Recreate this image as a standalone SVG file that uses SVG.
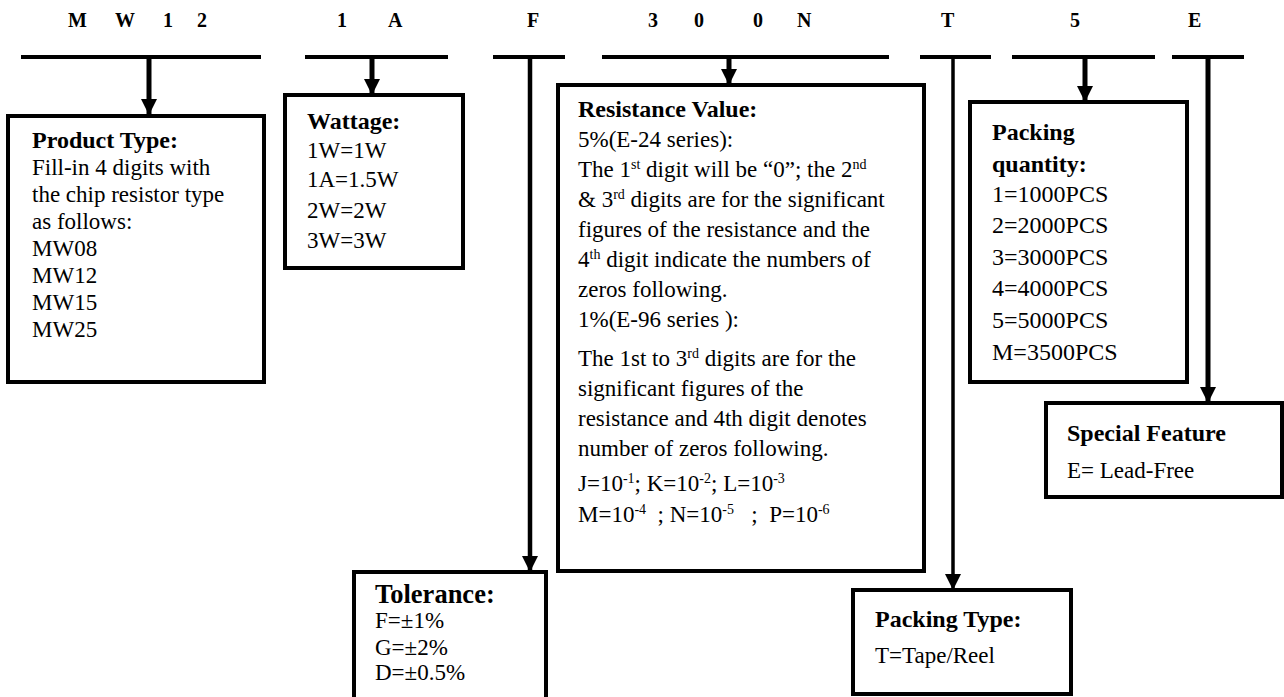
<svg xmlns="http://www.w3.org/2000/svg" width="1284" height="697" viewBox="0 0 1284 697">
<style>
text{font-family:"Liberation Serif","Times New Roman",serif;fill:#000}
.h{font-size:20px;font-weight:bold}
.t{font-size:24px;font-weight:bold}
.b{font-size:23px}
.q{font-size:24px}
.sup{font-size:14px}
.box{fill:#fff;stroke:#000;stroke-width:4}
.bar{stroke:#000;stroke-width:4;fill:none}
.stem{stroke:#000;fill:none}
</style>
<defs>
<marker id="ah" markerUnits="userSpaceOnUse" markerWidth="16" markerHeight="16" refX="16" refY="8" orient="auto">
<path d="M0,0 L16,8 L0,16 z" fill="#000"/>
</marker>
</defs>
<rect width="1284" height="697" fill="#fff"/>
<g id="header">
<text class="h" x="68" y="27">M</text>
<text class="h" x="115" y="27">W</text>
<text class="h" x="163" y="27">1</text>
<text class="h" x="197" y="27">2</text>
<text class="h" x="337" y="27">1</text>
<text class="h" x="388" y="27">A</text>
<text class="h" x="527" y="27">F</text>
<text class="h" x="648" y="27">3</text>
<text class="h" x="694" y="27">0</text>
<text class="h" x="753" y="27">0</text>
<text class="h" x="797" y="27">N</text>
<text class="h" x="941" y="27">T</text>
<text class="h" x="1070" y="27">5</text>
<text class="h" x="1188" y="27">E</text>
</g>
<g id="connectors">
<line class="bar" x1="21" y1="57" x2="261" y2="57"/>
<line class="bar" x1="305" y1="57" x2="448" y2="57"/>
<line class="bar" x1="493" y1="57" x2="565" y2="57"/>
<line class="bar" x1="602" y1="57" x2="889" y2="57"/>
<line class="bar" x1="920" y1="57" x2="991" y2="57"/>
<line class="bar" x1="1012" y1="57" x2="1155" y2="57"/>
<line class="bar" x1="1172" y1="57" x2="1244" y2="57"/>
<line class="stem" stroke-width="5" x1="149" y1="57" x2="149" y2="115" marker-end="url(#ah)"/>
<line class="stem" stroke-width="5" x1="372" y1="57" x2="372" y2="95" marker-end="url(#ah)"/>
<line class="stem" stroke-width="4.5" x1="530" y1="57" x2="530" y2="572" marker-end="url(#ah)"/>
<line class="stem" stroke-width="5" x1="729" y1="57" x2="729" y2="85" marker-end="url(#ah)"/>
<line class="stem" stroke-width="3.5" x1="953" y1="57" x2="953" y2="590" marker-end="url(#ah)"/>
<line class="stem" stroke-width="5" x1="1085" y1="57" x2="1085" y2="102" marker-end="url(#ah)"/>
<line class="stem" stroke-width="5" x1="1208" y1="57" x2="1208" y2="403" marker-end="url(#ah)"/>
</g>
<g id="product-type">
<rect class="box" x="8" y="116" width="256" height="266"/>
<text class="t" x="32" y="148">Product Type:</text>
<text class="b" x="32" y="175">Fill-in 4 digits with</text>
<text class="b" x="32" y="202">the chip resistor type</text>
<text class="b" x="32" y="229">as follows:</text>
<text class="b" x="32" y="256">MW08</text>
<text class="b" x="32" y="283">MW12</text>
<text class="b" x="32" y="310">MW15</text>
<text class="b" x="32" y="337">MW25</text>
</g>
<g id="wattage">
<rect class="box" x="285" y="95" width="178" height="173"/>
<text class="t" x="307" y="129">Wattage:</text>
<text class="b" x="307" y="158">1W=1W</text>
<text class="b" x="307" y="187">1A=1.5W</text>
<text class="b" x="307" y="218">2W=2W</text>
<text class="b" x="307" y="248">3W=3W</text>
</g>
<g id="tolerance">
<rect class="box" x="354" y="572" width="192" height="140"/>
<text class="t" x="375" y="603" style="font-size:26.5px">Tolerance:</text>
<text class="b" x="375" y="628">F=±1%</text>
<text class="b" x="375" y="655">G=±2%</text>
<text class="b" x="375" y="680">D=±0.5%</text>
</g>
<g id="resistance-value">
<rect class="box" x="558" y="85" width="366" height="486"/>
<text class="t" x="578" y="117">Resistance Value:</text>
<text class="b" x="578" y="147">5%(E-24 series):</text>
<text class="b" x="578" y="177">The 1<tspan class="sup" dy="-8">st</tspan><tspan dy="8"> digit will be “0”; the 2</tspan><tspan class="sup" dy="-8">nd</tspan></text>
<text class="b" x="578" y="207">&amp; 3<tspan class="sup" dy="-8">rd</tspan><tspan dy="8"> digits are for the significant</tspan></text>
<text class="b" x="578" y="237">figures of the resistance and the</text>
<text class="b" x="578" y="267">4<tspan class="sup" dy="-8">th</tspan><tspan dy="8"> digit indicate the numbers of</tspan></text>
<text class="b" x="578" y="297">zeros following.</text>
<text class="b" x="578" y="327">1%(E-96 series ):</text>
<text class="b" x="578" y="366">The 1st to 3<tspan class="sup" dy="-8">rd</tspan><tspan dy="8"> digits are for the</tspan></text>
<text class="b" x="578" y="396">significant figures of the</text>
<text class="b" x="578" y="426">resistance and 4th digit denotes</text>
<text class="b" x="578" y="456">number of zeros following.</text>
<text class="b" x="578" y="491">J=10<tspan class="sup" dy="-8">-1</tspan><tspan dy="8">; K=10</tspan><tspan class="sup" dy="-8">-2</tspan><tspan dy="8">; L=10</tspan><tspan class="sup" dy="-8">-3</tspan></text>
<text class="b" x="578" y="522" xml:space="preserve">M=10<tspan class="sup" dy="-8">-4</tspan><tspan dy="8">  ; N=10</tspan><tspan class="sup" dy="-8">-5</tspan><tspan dy="8">   ;  P=10</tspan><tspan class="sup" dy="-8">-6</tspan></text>
</g>
<g id="packing-type">
<rect class="box" x="853" y="590" width="218" height="104"/>
<text class="t" x="875" y="627">Packing Type:</text>
<text class="b" x="875" y="663">T=Tape/Reel</text>
</g>
<g id="packing-quantity">
<rect class="box" x="970" y="102" width="217" height="280"/>
<text class="t" x="992" y="140">Packing</text>
<text class="t" x="992" y="172">quantity:</text>
<text class="q" x="992" y="202">1=1000PCS</text>
<text class="q" x="992" y="233">2=2000PCS</text>
<text class="q" x="992" y="265">3=3000PCS</text>
<text class="q" x="992" y="296">4=4000PCS</text>
<text class="q" x="992" y="328">5=5000PCS</text>
<text class="q" x="992" y="360">M=3500PCS</text>
</g>
<g id="special-feature">
<rect class="box" x="1046" y="403" width="236" height="94"/>
<text class="t" x="1067" y="441">Special Feature</text>
<text class="b" x="1067" y="478">E= Lead-Free</text>
</g>
</svg>
